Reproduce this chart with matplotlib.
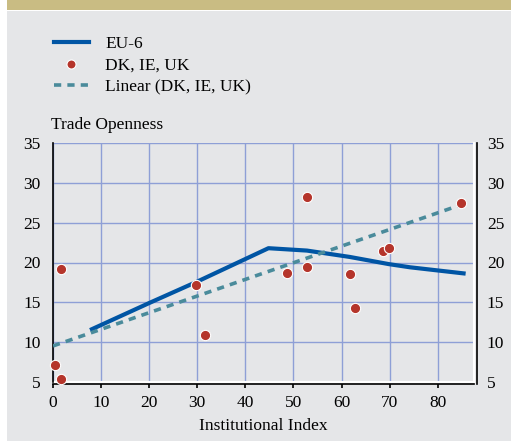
import numpy as np
import matplotlib
matplotlib.use('Agg')
import matplotlib.pyplot as plt
from matplotlib.patches import Rectangle
from matplotlib.lines import Line2D

plt.rcParams['font.family'] = ['Liberation Serif', 'DejaVu Serif']

# EU-6 line
eu6_x = [7.7, 20, 30, 44.8, 52.8, 61.7, 69.8, 74.2, 85.8]
eu6_y = [11.5, 14.9, 17.6, 21.8, 21.5, 20.7, 19.8, 19.4, 18.6]

# DK, IE, UK points
pts_x = [0.4, 1.7, 1.7, 29.7, 31.7, 48.7, 52.8, 52.8, 61.7, 62.8, 68.7, 69.8, 84.8]
pts_y = [7.1, 5.3, 19.2, 17.2, 10.9, 18.7, 19.4, 28.2, 18.6, 14.3, 21.5, 21.8, 27.5]

# linear trend (DK, IE, UK)
trend_x = [0, 85.5]
trend_y = [9.5, 27.4]

xticks = [0, 10, 20, 30, 40, 50, 60, 70, 80]
yticks = [5, 10, 15, 20, 25, 30, 35]

W, H = 511, 441
fig = plt.figure(figsize=(W / 100, H / 100), dpi=100)
fig.patch.set_facecolor('white')
# background panels
fig.add_artist(Rectangle((7 / W, 0), 1, (H - 11) / H, transform=fig.transFigure,
                         facecolor='#E5E6E8', edgecolor='none', zorder=0))
fig.add_artist(Rectangle((7 / W, (H - 10) / H), 1, 10 / H, transform=fig.transFigure,
                         facecolor='#C9BC83', edgecolor='none', zorder=0))

left, right = 53 / W, 474.3 / W
bottom, top = 1 - 381.7 / H, 1 - 143.3 / H
ax = fig.add_axes([left, bottom, right - left, top - bottom])
ax.set_facecolor('#E5E6E8')
ax.set_xlim(0, 87.6)
ax.set_ylim(5, 35)

ax.set_xticks(xticks)
ax.set_yticks(yticks)
ax.grid(True, color='#8E9FD6', linewidth=1)
ax.set_axisbelow(True)

ax.spines['top'].set_visible(False)
ax.spines['right'].set_visible(False)
ax.spines['left'].set_color('black')
ax.spines['left'].set_linewidth(1.2)
ax.spines['bottom'].set_color('black')
ax.spines['bottom'].set_linewidth(1.2)
ax.spines['bottom'].set_position(('outward', 1.5))
# white border lines
ax.axhline(5, color='white', linewidth=1.5, clip_on=False, zorder=1)
ax.axvline(87.6, color='white', linewidth=1.5, clip_on=False, zorder=1)
# black right border, offset a little to the right
fig.add_artist(Line2D([477.3 / W, 477.3 / W], [1 - 383.9 / H, top],
                      transform=fig.transFigure, color='black', linewidth=1.2))

ax.tick_params(axis='x', direction='out', length=3, width=1.2, pad=5, labelsize=12.5)
ax.tick_params(axis='y', length=0, pad=9, labelsize=12.5, labelright=True,
               right=False, left=False)

ax.plot(eu6_x, eu6_y, color='#0055A4', linewidth=3, solid_capstyle='butt', zorder=3)
ax.plot(trend_x, trend_y, color='#4A8B9B', linewidth=2.6, dashes=(2, 1.7), zorder=3)
ax.scatter(pts_x, pts_y, s=55, color='#B5352B', edgecolor='white', linewidth=0.8,
           zorder=4, clip_on=False)

ax.set_xlabel('Institutional Index', fontsize=12.5, labelpad=5)
fig.text(51 / W, 1 - 129 / H, 'Trade Openness', fontsize=12.5, ha='left', va='baseline')

handles = [
    Line2D([], [], color='#0055A4', linewidth=3),
    Line2D([], [], color='#B5352B', marker='o', linestyle='none', markersize=6.5,
           markeredgecolor='white', markeredgewidth=0.8),
    Line2D([], [], color='#4A8B9B', linewidth=2.6, dashes=(2, 1.7)),
]
labels = ['EU-6', 'DK, IE, UK', 'Linear (DK, IE, UK)']
fig.legend(handles, labels, loc='upper left', bbox_to_anchor=(54 / W, 1 - 36 / H),
           frameon=False, fontsize=12.5, handlelength=2.0, handletextpad=0.95,
           labelspacing=0.31, borderaxespad=0, borderpad=0)

fig.savefig('out.png', dpi=100, facecolor='white')
